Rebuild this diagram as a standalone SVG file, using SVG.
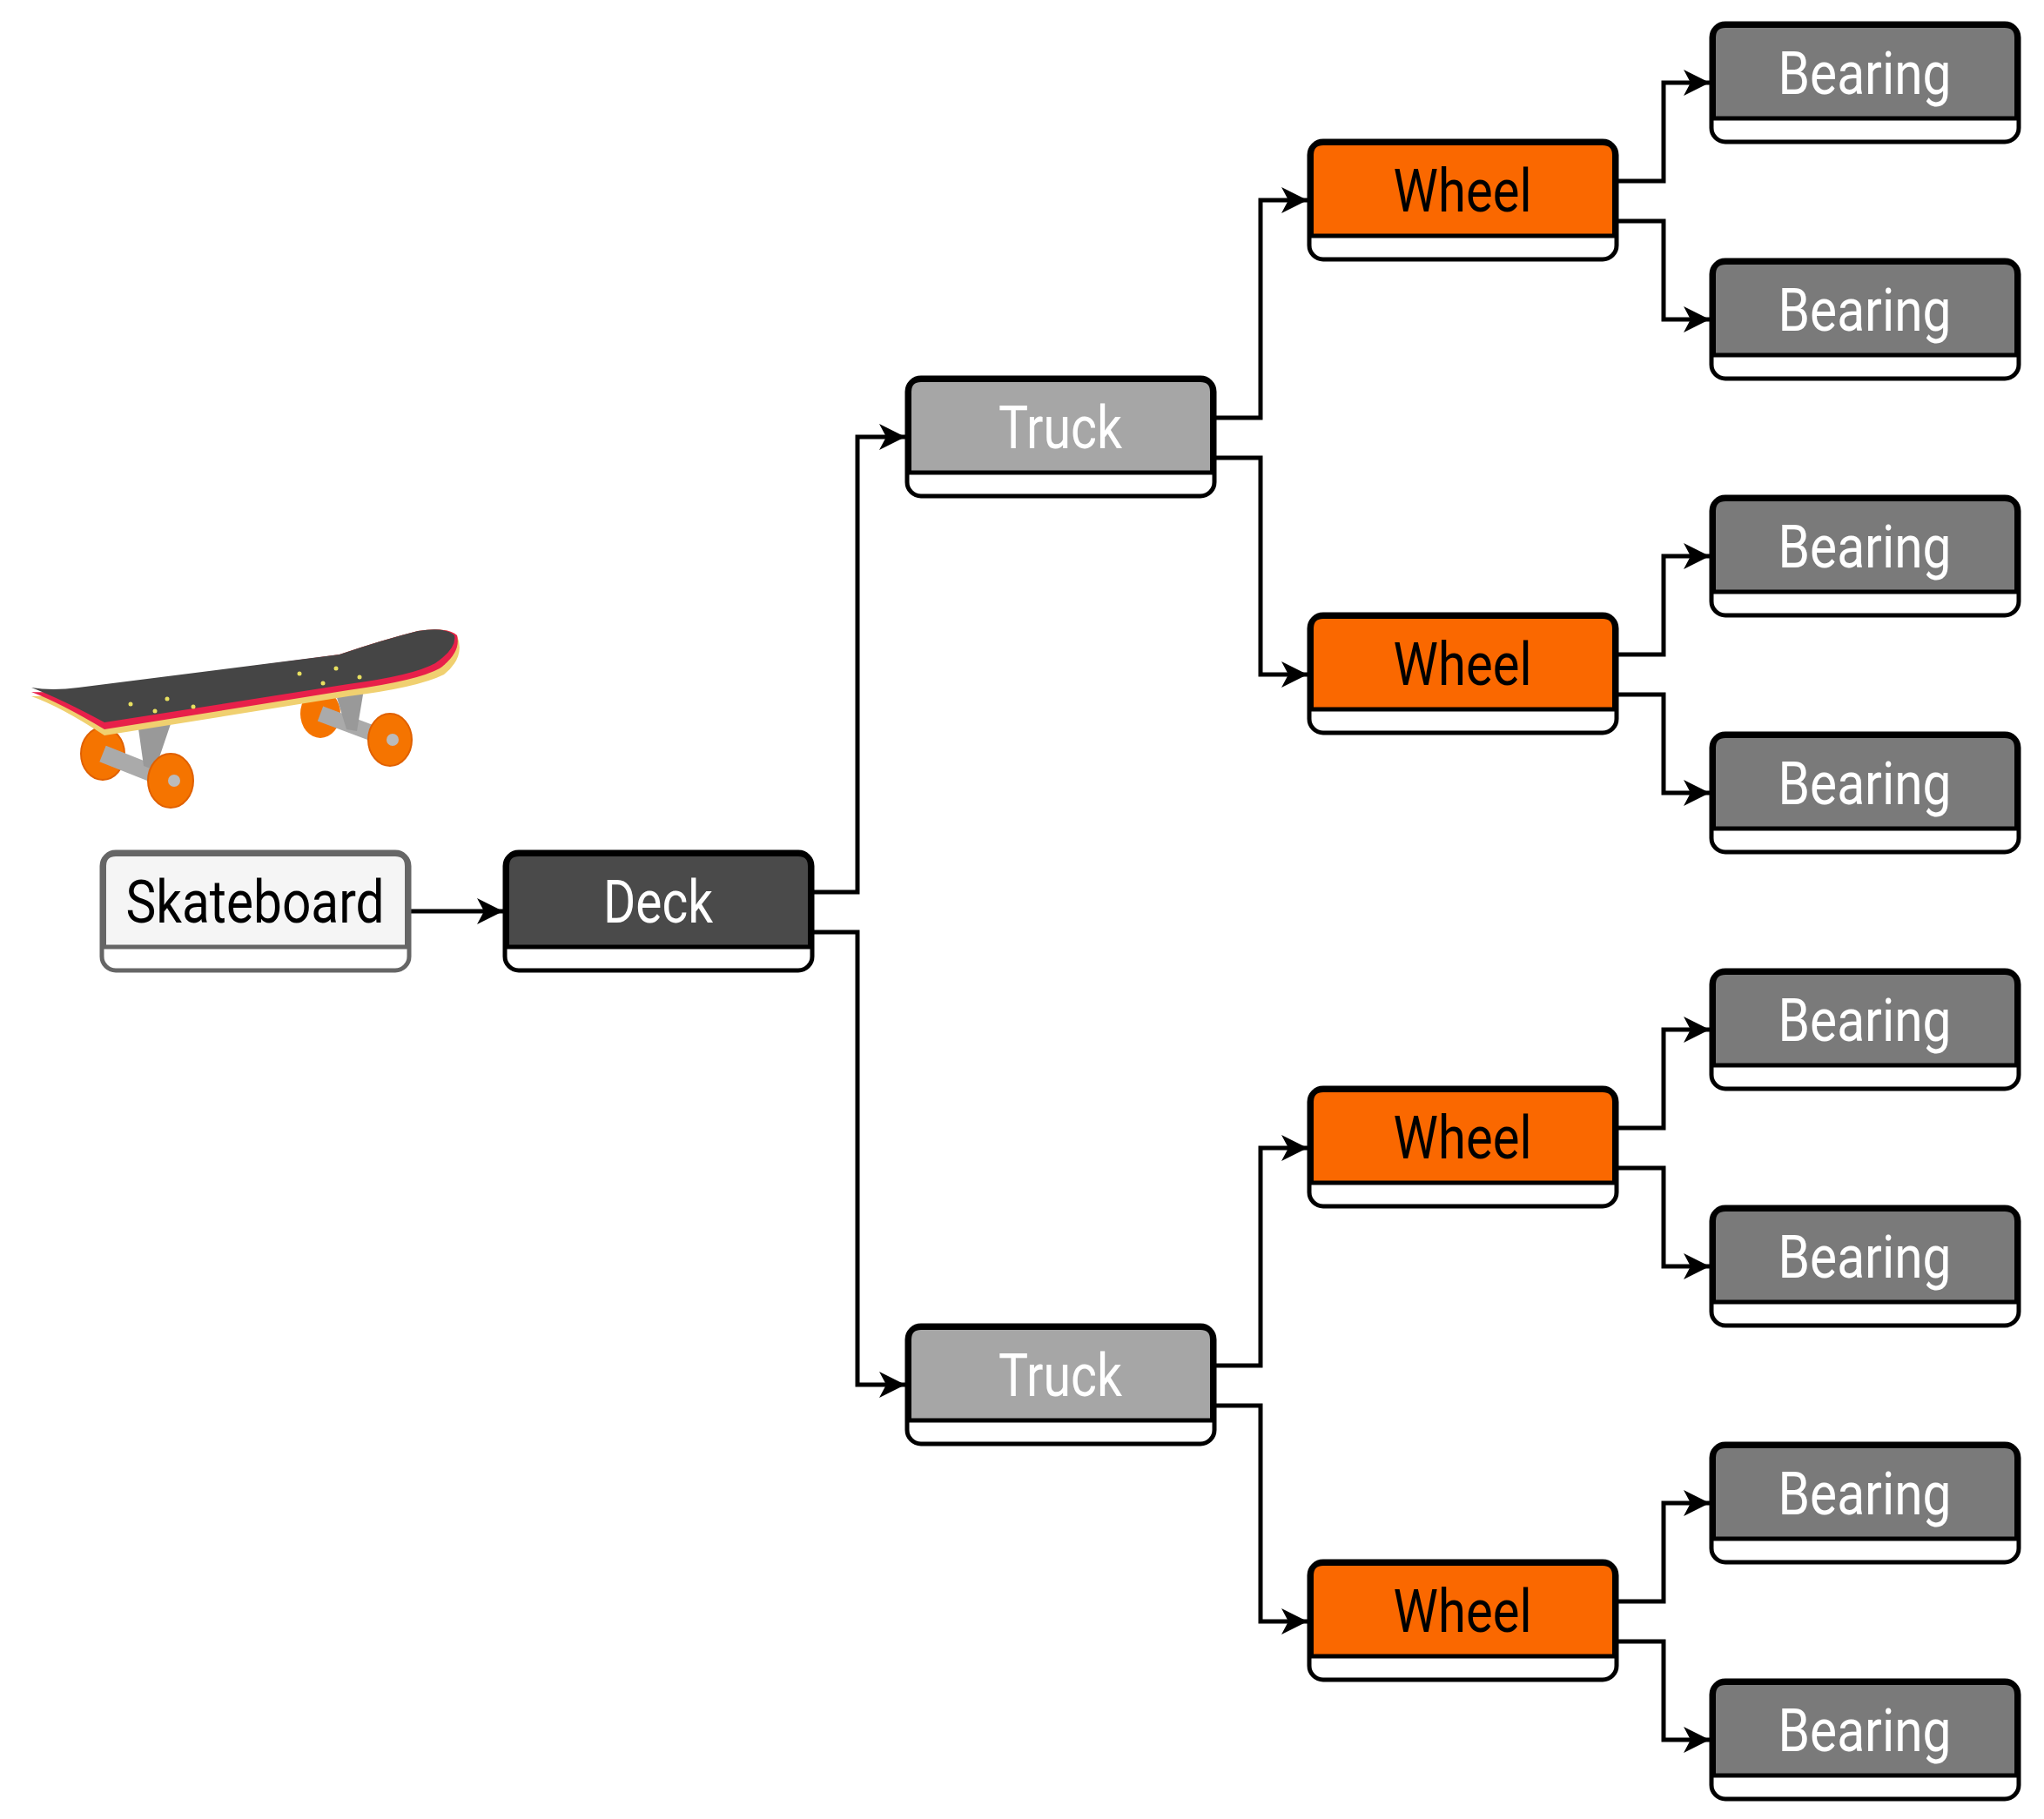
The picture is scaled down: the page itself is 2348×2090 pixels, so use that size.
<svg xmlns="http://www.w3.org/2000/svg" width="2348" height="2090" viewBox="0 0 2348 2090">
<style>
.t{font-family:"Liberation Sans Narrow","Roboto","DejaVu Sans Condensed",sans-serif;font-size:68px;text-anchor:middle}
.c{fill:none;stroke:#000;stroke-width:5}
</style>
<defs>
<marker id="ah" markerWidth="30" markerHeight="30" refX="30" refY="15" orient="auto" markerUnits="userSpaceOnUse"><path d="M0,0 L30,15 L0,30 L8,15 Z" fill="#000"/></marker>
</defs>
<rect width="2348" height="2090" fill="#fff"/>
<g id="skateboard-picture">
<ellipse cx="118" cy="866" rx="25" ry="30" fill="#f57400" stroke="#e06000" stroke-width="2"/>
<line x1="118" y1="866" x2="196" y2="897" stroke="#aaa" stroke-width="20"/>
<polygon points="158,830 198,826 178,885 165,880" fill="#999"/>
<ellipse cx="196" cy="897" rx="26" ry="31" fill="#f57400" stroke="#e06000" stroke-width="2"/>
<circle cx="200" cy="897" r="7" fill="#bbb"/>
<ellipse cx="368" cy="820" rx="23" ry="28" fill="#f57400"/>
<line x1="368" y1="820" x2="448" y2="850" stroke="#aaa" stroke-width="18"/>
<polygon points="385,795 418,792 410,840 398,838" fill="#999"/>
<ellipse cx="448" cy="850" rx="25" ry="30" fill="#f57400" stroke="#e06000" stroke-width="2"/>
<circle cx="451" cy="850" r="7" fill="#bbb"/>
<path d="M36,800 Q70,812 120,845 L400,800 Q480,790 510,775 Q535,755 525,730 Q515,720 480,725 Q440,735 390,752 L90,795 Q60,800 36,800 Z" fill="#f0d070"/>
<path d="M36,795 Q70,808 120,838 L400,793 Q480,782 505,768 Q530,750 525,730 Q515,720 480,725 Q440,735 390,752 L90,792 Q60,796 36,795 Z" fill="#e8204a"/>
<path d="M36,790 Q70,803 120,830 L400,786 Q475,776 500,762 Q525,745 522,730 Q512,720 480,725 Q440,735 390,752 L90,790 Q60,794 36,790 Z" fill="#454545"/>
<g fill="#e8e060"><circle cx="150" cy="809" r="2.5"/><circle cx="192" cy="803" r="2.5"/><circle cx="222" cy="812" r="2.5"/><circle cx="178" cy="817" r="2.5"/><circle cx="344" cy="774" r="2.5"/><circle cx="386" cy="768" r="2.5"/><circle cx="413" cy="778" r="2.5"/><circle cx="371" cy="785" r="2.5"/></g>
</g>
<g id="connectors">
<path class="c" d="M470,1047 L578,1047" marker-end="url(#ah)"/>
<path class="c" d="M933,1025 H985 V502 H1040" marker-end="url(#ah)"/>
<path class="c" d="M933,1071 H985 V1591 H1040" marker-end="url(#ah)"/>
<path class="c" d="M1395,480 H1448 V230 H1502" marker-end="url(#ah)"/>
<path class="c" d="M1395,526 H1448 V775 H1502" marker-end="url(#ah)"/>
<path class="c" d="M1395,1569 H1448 V1319 H1502" marker-end="url(#ah)"/>
<path class="c" d="M1395,1615 H1448 V1863 H1502" marker-end="url(#ah)"/>
<path class="c" d="M1857,208 H1911 V95 H1964" marker-end="url(#ah)"/>
<path class="c" d="M1857,254 H1911 V367 H1964" marker-end="url(#ah)"/>
<path class="c" d="M1857,752 H1911 V639 H1964" marker-end="url(#ah)"/>
<path class="c" d="M1857,798 H1911 V911 H1964" marker-end="url(#ah)"/>
<path class="c" d="M1857,1296 H1911 V1183 H1964" marker-end="url(#ah)"/>
<path class="c" d="M1857,1342 H1911 V1455 H1964" marker-end="url(#ah)"/>
<path class="c" d="M1857,1840 H1911 V1727 H1964" marker-end="url(#ah)"/>
<path class="c" d="M1857,1886 H1911 V1999 H1964" marker-end="url(#ah)"/>
</g>
<g id="node-skateboard"><rect x="117" y="979" width="353" height="136" rx="16" fill="#fff" stroke="#666" stroke-width="5"/><path d="M119.5,1088 V995 Q119.5,981.5 133,981.5 H454 Q467.5,981.5 467.5,995 V1088 Z" fill="#f5f5f5" stroke="#666" stroke-width="5"/><text class="t" x="293" y="1060" fill="#000" textLength="297" lengthAdjust="spacingAndGlyphs">Skateboard</text></g>
<g id="node-deck"><rect x="580" y="979" width="353" height="136" rx="16" fill="#fff" stroke="#000" stroke-width="5"/><path d="M582.5,1088 V995 Q582.5,981.5 596,981.5 H917 Q930.5,981.5 930.5,995 V1088 Z" fill="#4a4a4a" stroke="#000" stroke-width="5"/><text class="t" x="756" y="1060" fill="#fff" textLength="126" lengthAdjust="spacingAndGlyphs">Deck</text></g>
<g id="node-truck-1"><rect x="1042" y="434" width="353" height="136" rx="16" fill="#fff" stroke="#000" stroke-width="5"/><path d="M1044.5,543 V450 Q1044.5,436.5 1058,436.5 H1379 Q1392.5,436.5 1392.5,450 V543 Z" fill="#a6a6a6" stroke="#000" stroke-width="5"/><text class="t" x="1218" y="515" fill="#fff" textLength="142" lengthAdjust="spacingAndGlyphs">Truck</text></g>
<g id="node-truck-2"><rect x="1042" y="1523" width="353" height="136" rx="16" fill="#fff" stroke="#000" stroke-width="5"/><path d="M1044.5,1632 V1539 Q1044.5,1525.5 1058,1525.5 H1379 Q1392.5,1525.5 1392.5,1539 V1632 Z" fill="#a6a6a6" stroke="#000" stroke-width="5"/><text class="t" x="1218" y="1604" fill="#fff" textLength="142" lengthAdjust="spacingAndGlyphs">Truck</text></g>
<g id="node-wheel-1"><rect x="1504" y="162" width="353" height="136" rx="16" fill="#fff" stroke="#000" stroke-width="5"/><path d="M1506.5,271 V178 Q1506.5,164.5 1520,164.5 H1841 Q1854.5,164.5 1854.5,178 V271 Z" fill="#fa6800" stroke="#000" stroke-width="5"/><text class="t" x="1680" y="243" fill="#000" textLength="159" lengthAdjust="spacingAndGlyphs">Wheel</text></g>
<g id="node-wheel-2"><rect x="1504" y="706" width="353" height="136" rx="16" fill="#fff" stroke="#000" stroke-width="5"/><path d="M1506.5,815 V722 Q1506.5,708.5 1520,708.5 H1841 Q1854.5,708.5 1854.5,722 V815 Z" fill="#fa6800" stroke="#000" stroke-width="5"/><text class="t" x="1680" y="787" fill="#000" textLength="159" lengthAdjust="spacingAndGlyphs">Wheel</text></g>
<g id="node-wheel-3"><rect x="1504" y="1250" width="353" height="136" rx="16" fill="#fff" stroke="#000" stroke-width="5"/><path d="M1506.5,1359 V1266 Q1506.5,1252.5 1520,1252.5 H1841 Q1854.5,1252.5 1854.5,1266 V1359 Z" fill="#fa6800" stroke="#000" stroke-width="5"/><text class="t" x="1680" y="1331" fill="#000" textLength="159" lengthAdjust="spacingAndGlyphs">Wheel</text></g>
<g id="node-wheel-4"><rect x="1504" y="1794" width="353" height="136" rx="16" fill="#fff" stroke="#000" stroke-width="5"/><path d="M1506.5,1903 V1810 Q1506.5,1796.5 1520,1796.5 H1841 Q1854.5,1796.5 1854.5,1810 V1903 Z" fill="#fa6800" stroke="#000" stroke-width="5"/><text class="t" x="1680" y="1875" fill="#000" textLength="159" lengthAdjust="spacingAndGlyphs">Wheel</text></g>
<g id="node-bearing-1"><rect x="1966" y="27" width="353" height="136" rx="16" fill="#fff" stroke="#000" stroke-width="5"/><path d="M1968.5,136 V43 Q1968.5,29.5 1982,29.5 H2303 Q2316.5,29.5 2316.5,43 V136 Z" fill="#7a7a7a" stroke="#000" stroke-width="5"/><text class="t" x="2142" y="108" fill="#fff" textLength="199" lengthAdjust="spacingAndGlyphs">Bearing</text></g>
<g id="node-bearing-2"><rect x="1966" y="299" width="353" height="136" rx="16" fill="#fff" stroke="#000" stroke-width="5"/><path d="M1968.5,408 V315 Q1968.5,301.5 1982,301.5 H2303 Q2316.5,301.5 2316.5,315 V408 Z" fill="#7a7a7a" stroke="#000" stroke-width="5"/><text class="t" x="2142" y="380" fill="#fff" textLength="199" lengthAdjust="spacingAndGlyphs">Bearing</text></g>
<g id="node-bearing-3"><rect x="1966" y="571" width="353" height="136" rx="16" fill="#fff" stroke="#000" stroke-width="5"/><path d="M1968.5,680 V587 Q1968.5,573.5 1982,573.5 H2303 Q2316.5,573.5 2316.5,587 V680 Z" fill="#7a7a7a" stroke="#000" stroke-width="5"/><text class="t" x="2142" y="652" fill="#fff" textLength="199" lengthAdjust="spacingAndGlyphs">Bearing</text></g>
<g id="node-bearing-4"><rect x="1966" y="843" width="353" height="136" rx="16" fill="#fff" stroke="#000" stroke-width="5"/><path d="M1968.5,952 V859 Q1968.5,845.5 1982,845.5 H2303 Q2316.5,845.5 2316.5,859 V952 Z" fill="#7a7a7a" stroke="#000" stroke-width="5"/><text class="t" x="2142" y="924" fill="#fff" textLength="199" lengthAdjust="spacingAndGlyphs">Bearing</text></g>
<g id="node-bearing-5"><rect x="1966" y="1115" width="353" height="136" rx="16" fill="#fff" stroke="#000" stroke-width="5"/><path d="M1968.5,1224 V1131 Q1968.5,1117.5 1982,1117.5 H2303 Q2316.5,1117.5 2316.5,1131 V1224 Z" fill="#7a7a7a" stroke="#000" stroke-width="5"/><text class="t" x="2142" y="1196" fill="#fff" textLength="199" lengthAdjust="spacingAndGlyphs">Bearing</text></g>
<g id="node-bearing-6"><rect x="1966" y="1387" width="353" height="136" rx="16" fill="#fff" stroke="#000" stroke-width="5"/><path d="M1968.5,1496 V1403 Q1968.5,1389.5 1982,1389.5 H2303 Q2316.5,1389.5 2316.5,1403 V1496 Z" fill="#7a7a7a" stroke="#000" stroke-width="5"/><text class="t" x="2142" y="1468" fill="#fff" textLength="199" lengthAdjust="spacingAndGlyphs">Bearing</text></g>
<g id="node-bearing-7"><rect x="1966" y="1659" width="353" height="136" rx="16" fill="#fff" stroke="#000" stroke-width="5"/><path d="M1968.5,1768 V1675 Q1968.5,1661.5 1982,1661.5 H2303 Q2316.5,1661.5 2316.5,1675 V1768 Z" fill="#7a7a7a" stroke="#000" stroke-width="5"/><text class="t" x="2142" y="1740" fill="#fff" textLength="199" lengthAdjust="spacingAndGlyphs">Bearing</text></g>
<g id="node-bearing-8"><rect x="1966" y="1931" width="353" height="136" rx="16" fill="#fff" stroke="#000" stroke-width="5"/><path d="M1968.5,2040 V1947 Q1968.5,1933.5 1982,1933.5 H2303 Q2316.5,1933.5 2316.5,1947 V2040 Z" fill="#7a7a7a" stroke="#000" stroke-width="5"/><text class="t" x="2142" y="2012" fill="#fff" textLength="199" lengthAdjust="spacingAndGlyphs">Bearing</text></g>
</svg>
